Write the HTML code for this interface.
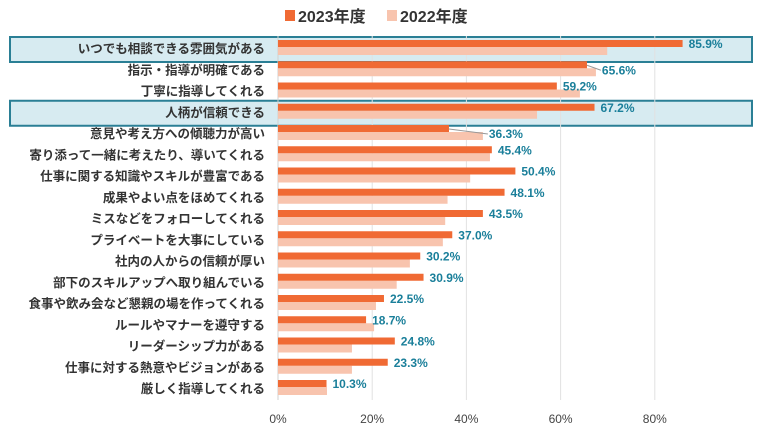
<!DOCTYPE html>
<html><head><meta charset="utf-8"><style>
body{margin:0;background:#fff;font-family:"Liberation Sans","Noto Sans CJK JP",sans-serif}
</style></head><body>
<svg id="c" width="765" height="435" xmlns="http://www.w3.org/2000/svg"></svg>
<script>
const categories=["いつでも相談できる雰囲気がある","指示・指導が明確である","丁寧に指導してくれる","人柄が信頼できる","意見や考え方への傾聴力が高い","寄り添って一緒に考えたり、導いてくれる","仕事に関する知識やスキルが豊富である","成果やよい点をほめてくれる","ミスなどをフォローしてくれる","プライベートを大事にしている","社内の人からの信頼が厚い","部下のスキルアップへ取り組んでいる","食事や飲み会など懇親の場を作ってくれる","ルールやマナーを遵守する","リーダーシップ力がある","仕事に対する熱意やビジョンがある","厳しく指導してくれる"];
const values2023=[85.9,65.6,59.2,67.2,36.3,45.4,50.4,48.1,43.5,37.0,30.2,30.9,22.5,18.7,24.8,23.3,10.3];
const values2022=[69.9,67.5,64.1,55.0,43.5,45.0,40.8,36.0,35.5,35.0,28.0,25.2,20.8,20.4,15.7,15.7,10.4];
const xTicks=[0,20,40,60,80];
const highlighted=[0,3];
const leaderRows=[1,4];
const svg=document.getElementById('c');const NS="http://www.w3.org/2000/svg";
const x=v=>278+v*4.71;const rowTop=i=>38+i*21.25;
function mk(t,a,p){const e=document.createElementNS(NS,t);for(const k in a)e.setAttribute(k,a[k]);(p||svg).appendChild(e);return e;}
highlighted.forEach(i=>{const r=mk('rect',{x:10,y:rowTop(i)-1,width:742,height:25,fill:'#d7ebf1',stroke:'#2a7f95','stroke-width':2});

});
xTicks.forEach(t=>{if(t>0){const l=mk('line',{x1:x(t),x2:x(t),y1:36,y2:400,stroke:'#e2e2e2'});

}
const tx=mk('text',{x:x(t),y:423,'text-anchor':'middle','font-size':12,fill:'#444'});tx.textContent=t+'%';

});
mk('line',{x1:278,x2:278,y1:36,y2:400,stroke:'#d0d0d0'});
categories.forEach((c,i)=>{const y=rowTop(i);
const lb=mk('text',{x:265,y:y+15,'text-anchor':'end','font-size':12.5,fill:'#333','font-weight':'bold'});lb.textContent=c;


const b2=mk('rect',{x:278,y:y+9,width:x(values2022[i])-278,height:8,fill:'#f8c4ae'});


const b1=mk('rect',{x:278,y:y+2,width:x(values2023[i])-278,height:7,fill:'#f06a34'});


const e1=x(values2023[i]),e2=x(values2022[i]);
let lx,ly;
if(leaderRows.includes(i)){lx=Math.max(e1,e2)+6;ly=y+15;
const ll=mk('line',{x1:e1,y1:y+6,x2:lx-1,y2:y+11,stroke:'#999','stroke-width':1});

}
else{lx=e1+6;ly=y+10;}
const v=mk('text',{x:lx,y:ly,'font-size':12,fill:'#1a7f9a','font-weight':'bold'});v.textContent=values2023[i].toFixed(1)+'%';

});
const lg=[['2023年度','#f06a34',285],['2022年度','#f8c4ae',387]];
lg.forEach(([t,c,lx])=>{const r=mk('rect',{x:lx,y:10,width:10,height:11,fill:c});


const tx=mk('text',{x:lx+13,y:22,'font-size':16,'font-weight':'bold',fill:'#333'});tx.textContent=t;

});
</script></body></html>
